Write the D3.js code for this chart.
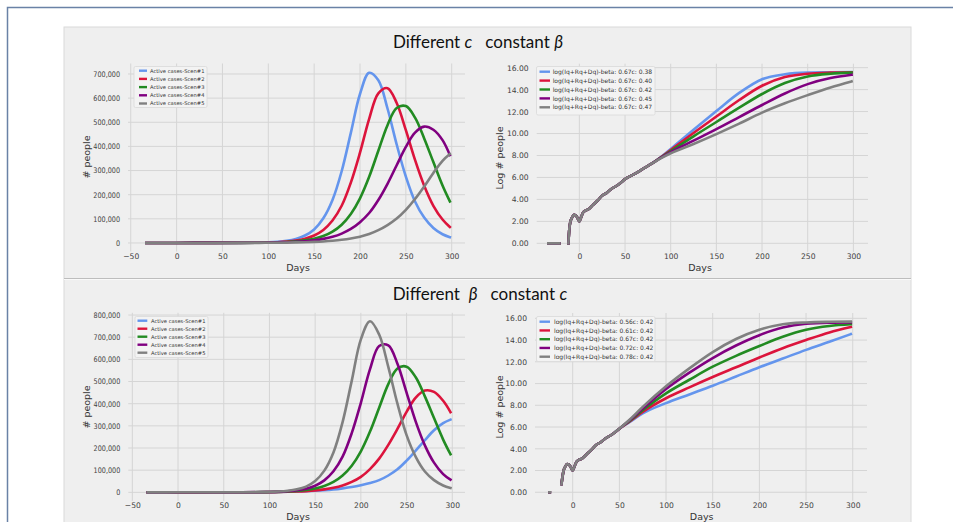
<!DOCTYPE html>
<html>
<head>
<meta charset="UTF-8">
<title>Different c / Different beta</title>
<style>
  body { margin: 0; background: #fff; }
  svg text { font-family: "DejaVu Sans", sans-serif; }
  .ticks text { fill: #3f3f3f; font-size: 7.6px; }
  .grid line { stroke: #d5d5d5; stroke-width: 1; }
  .alabel { fill: #333; font-size: 9.5px; }
  .title { font-family: Lato, "Open Sans", sans-serif; font-size: 17px; fill: #111; white-space: pre; }
  .legend text { fill: #333; }
</style>
</head>
<body>
<script src="https://d3js.org/d3.v7.min.js"></script>
<script>
'use strict';

var colors = ["#6495ed", "#dc143c", "#228b22", "#800080", "#808080"];

// active cases (thousands of people)
var activeDays = [-33, 0, 40, 70, 90, 100, 110, 120, 130, 140, 150, 160, 170, 180, 190, 200, 210, 220, 230, 240, 250, 260, 270, 280, 290, 298];

var activeC1 = [0, 0.1, 0.3, 0.8, 1.6, 2.6, 4.8, 9, 16.7, 30.8, 56, 102, 178, 297, 456, 617, 705, 674, 557, 408, 275, 172, 105, 62, 36, 24];
var activeC2 = [0, 0.1, 0.2, 0.6, 1.1, 1.8, 3.2, 5.7, 10, 17.6, 31, 54, 93, 154, 250, 374, 514, 620, 641, 580, 467, 344, 237, 154, 97, 66];
var activeC3 = [0, 0.1, 0.2, 0.4, 0.8, 1.4, 2.3, 3.9, 6.4, 10.6, 17.5, 28.5, 46.7, 75.6, 120, 185, 274, 382, 488, 559, 567, 519, 433, 335, 238, 172];
var activeC4 = [0, 0.1, 0.2, 0.3, 0.7, 1.3, 2.0, 3.1, 4.8, 7.3, 11.1, 16.9, 25.5, 38.7, 58, 86, 124, 178, 245, 322, 398, 457, 482, 469, 426, 364];
var activeC5 = [0, 0.05, 0.1, 0.2, 0.4, 0.7, 1.0, 1.5, 2.2, 3.1, 4.4, 6.3, 9.1, 13, 18.5, 26, 37, 53, 74, 101, 137, 182, 234, 290, 340, 368];

var activeB1 = [0, 0.05, 0.1, 0.3, 0.7, 1.0, 1.6, 2.5, 3.6, 5, 7, 9.5, 13, 18, 24, 32, 42, 55, 76, 104, 143, 188, 235, 280, 312, 328];
var activeB2 = [0, 0.05, 0.1, 0.3, 0.6, 1.0, 1.6, 2.4, 3.7, 5.7, 8.7, 13.4, 20.5, 31, 47, 70, 105, 152, 214, 286, 363, 427, 459, 453, 413, 362];
var activeB3 = [0, 0.1, 0.2, 0.4, 0.8, 1.4, 2.3, 3.9, 6.4, 10.6, 17.5, 28.5, 46.7, 75.6, 120, 185, 274, 382, 488, 559, 567, 519, 433, 335, 238, 172];
var activeB4 = [0, 0.1, 0.2, 0.4, 0.9, 1.6, 2.8, 5.1, 9.2, 16.7, 30, 54, 95, 161, 267, 404, 556, 660, 663, 580, 450, 319, 212, 134, 82, 57];
var activeB5 = [0, 0.1, 0.3, 0.6, 1.1, 1.8, 3.5, 6.9, 13.5, 26, 51, 98, 180, 317, 503, 690, 772, 712, 566, 400, 258, 160, 94, 55, 31, 20];

// log(Iq+Rq+Dq): shared early part, then one tail per scenario (null = gap)
var logEarlyDaysTop = [-34, -22, -17, -12, -11, -10, -8, -6, -4, -2, 0, 2, 4, 6, 10, 15, 20, 25, 30, 35, 40, 45, 50, 60, 70, 80];
var logEarlyTop = [0, 0, null, 0, 1.3, 1.9, 2.35, 2.6, 2.55, 2.3, 2.0, 2.4, 2.8, 2.95, 3.1, 3.5, 3.9, 4.35, 4.6, 4.95, 5.2, 5.5, 5.85, 6.3, 6.8, 7.3];
var logLateDaysTop = [90, 100, 125, 150, 175, 200, 225, 250, 275, 298];
var logC1 = [7.9, 8.6, 10.35, 12.05, 13.7, 14.95, 15.4, 15.55, 15.58, 15.6];
var logC2 = [7.88, 8.5, 10.05, 11.55, 13.05, 14.35, 15.15, 15.45, 15.55, 15.58];
var logC3 = [7.85, 8.4, 9.75, 11.05, 12.35, 13.6, 14.6, 15.2, 15.45, 15.55];
var logC4 = [7.82, 8.3, 9.35, 10.4, 11.5, 12.6, 13.65, 14.5, 15.05, 15.35];
var logC5 = [7.78, 8.2, 9.05, 9.95, 10.9, 11.9, 12.75, 13.5, 14.2, 14.75];

var logEarlyDaysBot = [-25, -24.5, -18, -12, -11, -10, -8, -6, -4, -2, 0, 2, 4, 6, 10, 15, 20, 25, 30, 35, 40, 45, 50];
var logEarlyBot = [0, 0, null, 0.75, 1.4, 1.9, 2.35, 2.6, 2.55, 2.3, 2.0, 2.4, 2.8, 2.95, 3.1, 3.5, 3.9, 4.35, 4.6, 4.95, 5.2, 5.5, 5.85];
var logLateDaysBot = [60, 75, 100, 125, 150, 175, 200, 225, 250, 275, 298];
var logB1 = [6.4, 7.25, 8.2, 9.0, 9.8, 10.65, 11.5, 12.3, 13.1, 13.85, 14.55];
var logB2 = [6.45, 7.4, 8.65, 9.65, 10.6, 11.5, 12.4, 13.25, 14.0, 14.7, 15.2];
var logB3 = [6.5, 7.55, 9.1, 10.35, 11.55, 12.55, 13.45, 14.3, 14.95, 15.3, 15.45];
var logB4 = [6.55, 7.7, 9.5, 11.0, 12.35, 13.5, 14.45, 15.15, 15.5, 15.6, 15.62];
var logB5 = [6.6, 7.85, 9.75, 11.4, 12.9, 14.1, 14.95, 15.45, 15.62, 15.68, 15.7];

var activeLabels = ["Active cases-Scen#1", "Active cases-Scen#2", "Active cases-Scen#3", "Active cases-Scen#4", "Active cases-Scen#5"];
var logLabelsC = ["log(Iq+Rq+Dq)-beta: 0.67c: 0.38", "log(Iq+Rq+Dq)-beta: 0.67c: 0.40", "log(Iq+Rq+Dq)-beta: 0.67c: 0.42", "log(Iq+Rq+Dq)-beta: 0.67c: 0.45", "log(Iq+Rq+Dq)-beta: 0.67c: 0.47"];
var logLabelsB = ["log(Iq+Rq+Dq)-beta: 0.56c: 0.42", "log(Iq+Rq+Dq)-beta: 0.61c: 0.42", "log(Iq+Rq+Dq)-beta: 0.67c: 0.42", "log(Iq+Rq+Dq)-beta: 0.72c: 0.42", "log(Iq+Rq+Dq)-beta: 0.78c: 0.42"];

var dayTicks = [-50, 0, 50, 100, 150, 200, 250, 300];
var activeTicksTop = [0, 100, 200, 300, 400, 500, 600, 700];
var activeTicksBot = [0, 100, 200, 300, 400, 500, 600, 700, 800];
var logTicks = [0, 2, 4, 6, 8, 10, 12, 14, 16];

// ---- build series ----
function zip(days, vals){ return days.map(function(d, i){ return [d, vals[i]]; }); }
function activeSeries(list){ return list.map(function(v){ return zip(activeDays, v); }); }
function logSeries(eDays, eVals, lDays, list){
	return list.map(function(v){ return zip(eDays, eVals).concat(zip(lDays, v)); });
}

var svg = d3.select("body").append("svg")
	.attr("width", 953)
	.attr("height", 522);

// slide frame + gray panel
svg.append("rect").attr("x", 7.5).attr("y", 7.5).attr("width", 980).attr("height", 600)
	.attr("fill", "#fff").attr("stroke", "#6a82a6").attr("stroke-width", 1.5);
svg.append("rect").attr("x", 64).attr("y", 27).attr("width", 847).attr("height", 520)
	.attr("fill", "#efefef").attr("stroke", "#dadada");
svg.append("line").attr("x1", 64).attr("x2", 911).attr("y1", 278.5).attr("y2", 278.5).attr("stroke", "#bdbdbd");
svg.append("line").attr("x1", 64).attr("x2", 911).attr("y1", 279.5).attr("y2", 279.5).attr("stroke", "#f9f9f9");

var t1 = svg.append("text").attr("class", "title").attr("x", 478).attr("y", 48).attr("text-anchor", "middle");
t1.append("tspan").text("Different ");
t1.append("tspan").attr("font-style", "italic").text("c");
t1.append("tspan").text("   constant ");
t1.append("tspan").attr("font-style", "italic").text("β");

var t2 = svg.append("text").attr("class", "title").attr("x", 480).attr("y", 300).attr("text-anchor", "middle");
t2.append("tspan").text("Different  ");
t2.append("tspan").attr("font-style", "italic").text("β");
t2.append("tspan").text("   constant ");
t2.append("tspan").attr("font-style", "italic").text("c");

var fmtActive = function(d){ return d3.format(",")(d * 1000); };
var fmtLog = d3.format(".2f");

function clean(a){
	a.select(".domain").remove();
	a.selectAll("text").attr("font-family", null).attr("font-size", null).attr("fill", null);
}

function drawPanel(cfg){
	var x = d3.scaleLinear().domain(cfg.xDomain).range(cfg.xRange);
	var y = d3.scaleLinear().domain(cfg.yDomain).range(cfg.yRange);
	var g = svg.append("g");
	var xt = cfg.xTicks.filter(function(d){ return d >= cfg.xDomain[0]; });

	g.append("g").attr("class", "grid")
		.selectAll("line").data(xt).enter().append("line")
		.attr("x1", x).attr("x2", x)
		.attr("y1", cfg.yRange[0]).attr("y2", cfg.yRange[1]);
	g.append("g").attr("class", "grid")
		.selectAll("line").data(cfg.yTicks).enter().append("line")
		.attr("y1", y).attr("y2", y)
		.attr("x1", cfg.xRange[0]).attr("x2", cfg.xRange[1]);

	g.append("g").attr("class", "ticks")
		.attr("transform", "translate(0," + cfg.yRange[0] + ")")
		.call(d3.axisBottom(x).tickValues(xt).tickSize(0).tickPadding(2))
		.call(clean);
	var ya = g.append("g").attr("class", "ticks")
		.attr("transform", "translate(" + cfg.xRange[0] + ",0)")
		.call(d3.axisLeft(y).tickValues(cfg.yTicks).tickSize(0).tickPadding(8).tickFormat(cfg.yFormat))
		.call(clean);
	// the reference's long tick numbers are narrower than plain DejaVu
	if (cfg.squeeze) {
		ya.selectAll("text").each(function(){
			var w = this.getComputedTextLength();
			d3.select(this).attr("textLength", w * cfg.squeeze).attr("lengthAdjust", "spacingAndGlyphs");
		});
	}

	var line = d3.line()
		.defined(function(d){ return d[1] != null; })
		.x(function(d){ return x(d[0]); })
		.y(function(d){ return y(d[1]); })
		.curve(cfg.curve);

	g.append("g").selectAll("path").data(cfg.series).enter().append("path")
		.attr("d", line)
		.attr("fill", "none")
		.attr("stroke", function(d, i){ return colors[i]; })
		.attr("stroke-width", 2.6)
		.attr("stroke-linejoin", "round")
		.attr("stroke-linecap", "square");

	g.append("text").attr("class", "alabel").attr("text-anchor", "middle")
		.attr("x", cfg.xLabel[0]).attr("y", cfg.xLabel[1]).text("Days");
	g.append("text").attr("class", "alabel").attr("text-anchor", "middle")
		.attr("transform", "translate(" + cfg.yLabel[0] + "," + cfg.yLabel[1] + ") rotate(-90)")
		.attr("dy", "0.35em").text(cfg.yTitle);

	var L = cfg.legend;
	var lg = g.append("g").attr("class", "legend");
	lg.append("rect").attr("x", L.x).attr("y", L.y).attr("width", L.w).attr("height", L.h)
		.attr("rx", 1.5).attr("fill", "#f3f3f3").attr("stroke", "#d9d9d9").attr("stroke-width", 0.8);
	var row = lg.selectAll("g.row").data(cfg.labels).enter().append("g")
		.attr("transform", function(d, i){ return "translate(0," + (L.y0 + i * L.dy) + ")"; });
	row.append("line").attr("x1", L.h0).attr("x2", L.h1)
		.attr("stroke", function(d, i){ return colors[i]; }).attr("stroke-width", 2.4);
	row.append("text").attr("x", L.tx).attr("dy", "0.35em")
		.attr("font-size", L.fs).text(function(d){ return d; });
}

drawPanel({
	xDomain: [-53, 314.5], xRange: [128, 465],
	yDomain: [-35.4, 743.4], yRange: [251.5, 63.5],
	xTicks: dayTicks, yTicks: activeTicksTop, yFormat: fmtActive, squeeze: 0.85,
	series: activeSeries([activeC1, activeC2, activeC3, activeC4, activeC5]),
	curve: d3.curveCatmullRom.alpha(0.5),
	xLabel: [298, 271], yLabel: [87, 157], yTitle: "# people",
	labels: activeLabels,
	legend: {x: 134, y: 66.5, w: 73, h: 41, y0: 70.7, dy: 8.2, h0: 139, h1: 147, tx: 150, fs: 5.2}
});

drawPanel({
	xDomain: [-46.7, 316], xRange: [536.7, 868],
	yDomain: [-0.78, 16.36], yRange: [251.9, 63.7],
	xTicks: dayTicks, yTicks: logTicks, yFormat: fmtLog,
	series: logSeries(logEarlyDaysTop, logEarlyTop, logLateDaysTop, [logC1, logC2, logC3, logC4, logC5]),
	curve: d3.curveMonotoneX,
	xLabel: [700, 271], yLabel: [500, 158], yTitle: "Log # people",
	labels: logLabelsC,
	legend: {x: 536.5, y: 66.5, w: 118.5, h: 48.5, y0: 71.7, dy: 8.9, h0: 539.5, h1: 550, tx: 552.7, fs: 6}
});

drawPanel({
	xDomain: [-54.4, 313.9], xRange: [128.3, 465],
	yDomain: [-38.6, 810], yRange: [500.9, 312.8],
	xTicks: dayTicks, yTicks: activeTicksBot, yFormat: fmtActive, squeeze: 0.85,
	series: activeSeries([activeB1, activeB2, activeB3, activeB4, activeB5]),
	curve: d3.curveCatmullRom.alpha(0.5),
	xLabel: [298, 520], yLabel: [87, 407], yTitle: "# people",
	labels: activeLabels,
	legend: {x: 135, y: 316.5, w: 73, h: 41, y0: 320.7, dy: 8.0, h0: 137.5, h1: 147.3, tx: 151, fs: 5.2}
});

drawPanel({
	xDomain: [-40.4, 315.3], xRange: [535, 867],
	yDomain: [-0.785, 16.49], yRange: [500.8, 313],
	xTicks: dayTicks, yTicks: logTicks, yFormat: fmtLog,
	series: logSeries(logEarlyDaysBot, logEarlyBot, logLateDaysBot, [logB1, logB2, logB3, logB4, logB5]),
	curve: d3.curveMonotoneX,
	xLabel: [701.7, 520], yLabel: [500, 407], yTitle: "Log # people",
	labels: logLabelsB,
	legend: {x: 536.5, y: 316.5, w: 118.5, h: 45, y0: 321.7, dy: 8.75, h0: 539.5, h1: 550, tx: 554, fs: 6}
});

</script>
</body>
</html>
